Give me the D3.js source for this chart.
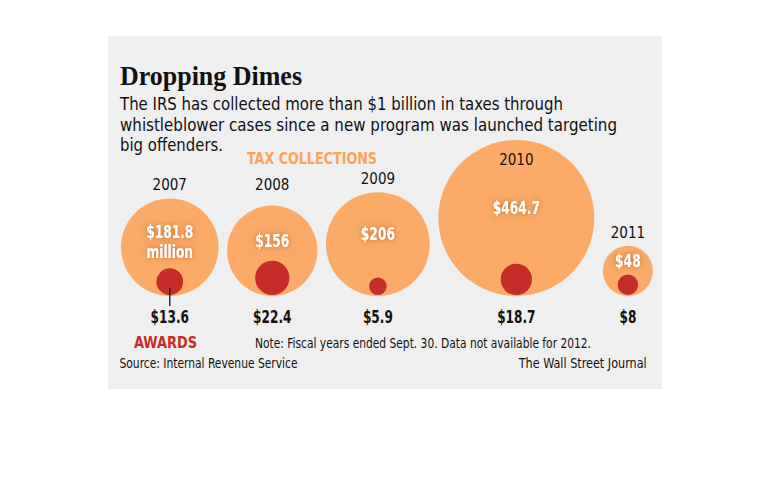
<!DOCTYPE html>
<html>
<head>
<meta charset="utf-8">
<script src="https://cdn.jsdelivr.net/npm/d3@7"></script>
<style>
  body { margin: 0; background: #fff; }
  svg { display: block; }
  .sans { font-family: "Liberation Sans Narrow", "DejaVu Sans Condensed", sans-serif; }
</style>
</head>
<body>
<svg id="chart" width="770" height="484"></svg>
<script>
// data read from the graphic, $ millions
const years = ["2007", "2008", "2009", "2010", "2011"];
const collections = [181.8, 156, 206, 464.7, 48];
const collectionLabels = [["$181.8", "million"], ["$156"], ["$206"], ["$464.7"], ["$48"]];
const awards = [13.6, 22.4, 5.9, 18.7, 8];
const awardLabels = ["$13.6", "$22.4", "$5.9", "$18.7", "$8"];

const title = "Dropping Dimes";
const subtitle = [
  "The IRS has collected more than $1 billion in taxes through",
  "whistleblower cases since a new program was launched targeting",
  "big offenders."
];
const note = "Note: Fiscal years ended Sept. 30. Data not available for 2012.";
const source = "Source: Internal Revenue Service";
const credit = "The Wall Street Journal";

const ORANGE = "#fbab67", RED = "#c62d29", INK = "#111";

const svg = d3.select("#chart");

// the original type is narrower than anything installed, so squeeze it
function squeeze(sel, k) {
  sel.each(function() {
    const w = this.getComputedTextLength();
    d3.select(this).attr("textLength", w * k).attr("lengthAdjust", "spacingAndGlyphs");
  });
}

// glow behind the white numbers
const defs = svg.append("defs");
const glow = defs.append("filter").attr("id", "glow")
  .attr("x", "-30%").attr("y", "-60%").attr("width", "160%").attr("height", "220%");
glow.append("feGaussianBlur").attr("in", "SourceAlpha").attr("stdDeviation", 3.4).attr("result", "b");
glow.append("feFlood").attr("flood-color", "#a85a1c").attr("flood-opacity", 0.75);
glow.append("feComposite").attr("in2", "b").attr("operator", "in").attr("result", "s");
const merge = glow.append("feMerge");
merge.append("feMergeNode").attr("in", "s");
merge.append("feMergeNode").attr("in", "SourceGraphic");

// panel
svg.append("rect").attr("x", 108).attr("y", 36).attr("width", 554).attr("height", 353).attr("fill", "#efefef");

svg.append("text").attr("x", 120).attr("y", 85)
  .attr("font-family", "Liberation Serif, DejaVu Serif, serif").attr("font-weight", "bold")
  .attr("font-size", 28).attr("fill", INK)
  .attr("textLength", 182).attr("lengthAdjust", "spacingAndGlyphs")
  .text(title);

const subW = [443, 497, 103];
svg.append("g").selectAll("text").data(subtitle).join("text")
  .attr("class", "sans")
  .attr("x", 120).attr("y", (d, i) => 110 + i * 20.5)
  .attr("font-size", 18.5).attr("fill", INK)
  .attr("textLength", (d, i) => subW[i]).attr("lengthAdjust", "spacingAndGlyphs")
  .text(d => d);

svg.append("text").attr("class", "sans").attr("x", 247).attr("y", 164)
  .attr("font-size", 15).attr("font-weight", "bold").attr("fill", "#f9a55c")
  .attr("textLength", 130).attr("lengthAdjust", "spacingAndGlyphs")
  .text("TAX COLLECTIONS");

// circles: area scaled to dollars, packed left to right on one baseline
const r = d3.scaleSqrt().domain([0, d3.max(collections)]).range([0, 78]);
const base = 296, gap = 8.5, left = 121;
const rows = years.map((y, i) => ({
  year: y, tax: collections[i], taxLabel: collectionLabels[i],
  award: awards[i], awardLabel: awardLabels[i], R: r(collections[i]), ra: r(awards[i])
}));
let cursor = left;
rows.forEach(d => {
  d.cx = cursor + d.R;
  d.cy = base - d.R;
  cursor += 2 * d.R + gap;
});

const g = svg.append("g").selectAll("g").data(rows).join("g");

g.append("circle").attr("cx", d => d.cx).attr("cy", d => d.cy).attr("r", d => d.R).attr("fill", ORANGE);
g.append("circle").attr("cx", d => d.cx).attr("cy", d => base - 1 - d.ra).attr("r", d => d.ra).attr("fill", RED);

// year labels sit just above each circle; big ones share a row, the tallest takes it inside
g.append("text").attr("class", "sans")
  .attr("x", d => d.cx)
  .attr("y", d => {
    const top = base - 2 * d.R;
    let y = top - 8;
    if (d.R > 40) y = Math.min(y, 190);
    if (y < 175) y = top + 25;
    return y;
  })
  .attr("text-anchor", "middle").attr("font-size", 15).attr("fill", INK)
  .text(d => d.year);

// collection amounts in white
g.each(function(d) {
  const y0 = d.taxLabel.length === 1 ? d.cy - 4 : d.cy - 9.5;
  d3.select(this).selectAll("text.tax").data(d.taxLabel).join("text")
    .attr("class", "sans tax")
    .attr("x", d.cx).attr("y", (s, i) => y0 + i * 19.9)
    .attr("text-anchor", "middle").attr("font-size", 17).attr("font-weight", "bold")
    .attr("fill", "#fff").attr("filter", "url(#glow)")
    .text(s => s)
    .call(squeeze, 0.8);
});

// award amounts under the circles
g.append("text").attr("class", "sans")
  .attr("x", d => d.cx).attr("y", 322.5)
  .attr("text-anchor", "middle").attr("font-size", 17.5).attr("font-weight", "bold").attr("fill", INK)
  .text(d => d.awardLabel)
  .call(squeeze, 0.77);

// leader from the first award bubble
const first = rows[0];
svg.append("line")
  .attr("x1", first.cx).attr("x2", first.cx)
  .attr("y1", base - 1 - first.ra + 6).attr("y2", 306)
  .attr("stroke", INK).attr("stroke-width", 1.3);

svg.append("text").attr("class", "sans").attr("x", 165.5).attr("y", 348.3)
  .attr("text-anchor", "middle").attr("font-size", 15).attr("font-weight", "bold").attr("fill", RED)
  .attr("textLength", 63).attr("lengthAdjust", "spacingAndGlyphs")
  .text("AWARDS");

svg.append("text").attr("class", "sans").attr("x", 255).attr("y", 347.5)
  .attr("font-size", 14).attr("fill", INK)
  .attr("textLength", 336).attr("lengthAdjust", "spacingAndGlyphs")
  .text(note);

svg.append("text").attr("class", "sans").attr("x", 119.5).attr("y", 368.3)
  .attr("font-size", 14).attr("fill", INK)
  .attr("textLength", 178).attr("lengthAdjust", "spacingAndGlyphs")
  .text(source);

svg.append("text").attr("class", "sans").attr("x", 646.7).attr("y", 368.3)
  .attr("text-anchor", "end").attr("font-size", 14).attr("fill", INK)
  .attr("textLength", 128).attr("lengthAdjust", "spacingAndGlyphs")
  .text(credit);
</script>
</body>
</html>
